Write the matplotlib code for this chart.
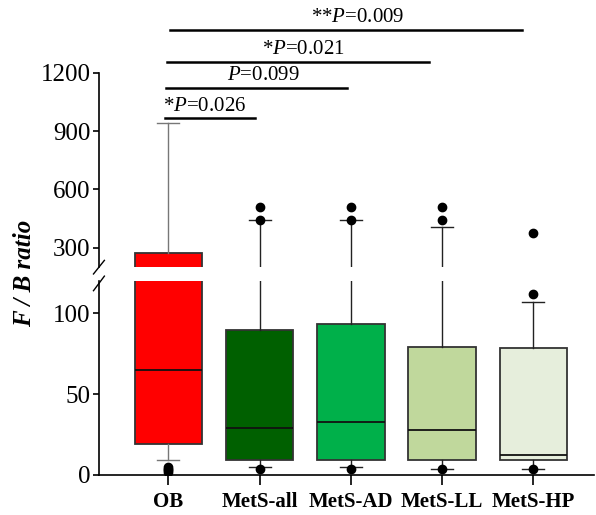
import matplotlib
matplotlib.use("Agg")
import matplotlib.pyplot as plt

# data
groups = ["OB", "MetS-all", "MetS-AD", "MetS-LL", "MetS-HP"]
q1 = [19, 9, 9, 9, 9]
medians = [65, 29, 32.7, 27.8, 12.5]
q3 = [274, 89.7, 93.2, 79.4, 78.6]
whislo = [9, 5, 5, 4, 4]
whishi = [940, 440, 440, 405, 107]
fliers = [[2, 3, 4, 5], [4, 440, 510], [4, 440, 510], [4, 440, 510], [4, 112, 374]]
colors = ["#FF0000", "#006000", "#00B04A", "#C0D89C", "#E6EEDC"]

pvals = ["*$P$=0.026", "$P$=0.099", "*$P$=0.021", "**$P$=0.009"]
p_x0 = [0.96, 0.97, 0.985, 1.02]
p_x1 = [1.95, 2.96, 3.86, 4.88]
p_y = [966, 1124, 1258, 1422]

plt.rcParams["font.family"] = ["Liberation Serif", "DejaVu Serif"]
plt.rcParams["mathtext.fontset"] = "custom"
plt.rcParams["mathtext.it"] = "Liberation Serif:italic"
plt.rcParams["mathtext.rm"] = "Liberation Serif"

fig = plt.figure(figsize=(5.96, 5.15), dpi=100)
ax_hi = fig.add_axes([0.166, 0.4816, 0.83, 0.3767])
ax_lo = fig.add_axes([0.166, 0.0777, 0.83, 0.3767])

stats = []
for i, g in enumerate(groups):
    stats.append(dict(label=g, q1=q1[i], med=medians[i], q3=q3[i],
                      whislo=whislo[i], whishi=whishi[i], fliers=fliers[i]))

positions = list(range(1, len(groups) + 1))
for ax in (ax_hi, ax_lo):
    bp = ax.bxp(stats, positions=positions, widths=0.74, patch_artist=True,
                showfliers=True, capwidths=0.24,
                boxprops=dict(edgecolor="#333333", linewidth=1.3),
                medianprops=dict(color="#111111", linewidth=1.3),
                whiskerprops=dict(color="#222222", linewidth=1.0),
                capprops=dict(color="#222222", linewidth=1.0),
                flierprops=dict(marker="o", markerfacecolor="black",
                                markeredgecolor="black", markersize=6))
    for patch, c in zip(bp["boxes"], colors):
        patch.set_facecolor(c)
    # OB whisker is drawn in grey
    for w in bp["whiskers"][:2] + bp["caps"][:2]:
        w.set_color("#777777")
    ax.set_xlim(0.24, 5.66)
    for s in ("top", "right"):
        ax.spines[s].set_visible(False)
    ax.spines["left"].set_linewidth(1.2)
    ax.tick_params(axis="y", labelsize=18, length=4, width=1.2, direction="out", pad=2)

ax_hi.set_ylim(200, 1200)
ax_hi.set_yticks([300, 600, 900, 1200])
ax_hi.spines["bottom"].set_visible(False)
ax_hi.tick_params(axis="x", bottom=False, labelbottom=False)

ax_lo.set_ylim(0, 120)
ax_lo.set_yticks([0, 50, 100])
ax_lo.spines["bottom"].set_linewidth(1.2)
ax_lo.set_xticks(positions)
ax_lo.set_xticklabels(groups, fontsize=15, fontweight="bold")
ax_lo.tick_params(axis="x", length=7, width=1.2, direction="out", pad=5)

# break marks on the left spine
kw = dict(color="black", linewidth=1.0, clip_on=False)
ax_hi.plot([-0.011, 0.011], [-0.036, 0.034], transform=ax_hi.transAxes, **kw)
ax_lo.plot([-0.011, 0.011], [0.95, 1.025], transform=ax_lo.transAxes, **kw)

# significance brackets (text nudged a little, as in the original)
nudge = [-5, 7, 5, 11]
for txt, x0, x1, y, dx in zip(pvals, p_x0, p_x1, p_y, nudge):
    ax_hi.plot([x0, x1], [y, y], color="black", linewidth=1.8, clip_on=False)
    ax_hi.annotate(txt, xy=((x0 + x1) / 2, y), xytext=(dx * 0.72, 2), textcoords="offset points",
                   ha="center", va="bottom", fontsize=15, annotation_clip=False)

fig.text(25 / 596, 1 - 273 / 515, "F / B ratio", rotation=90, ha="center",
         va="center", fontsize=18, fontweight="bold", fontstyle="italic")

fig.savefig("out.png", dpi=100)
